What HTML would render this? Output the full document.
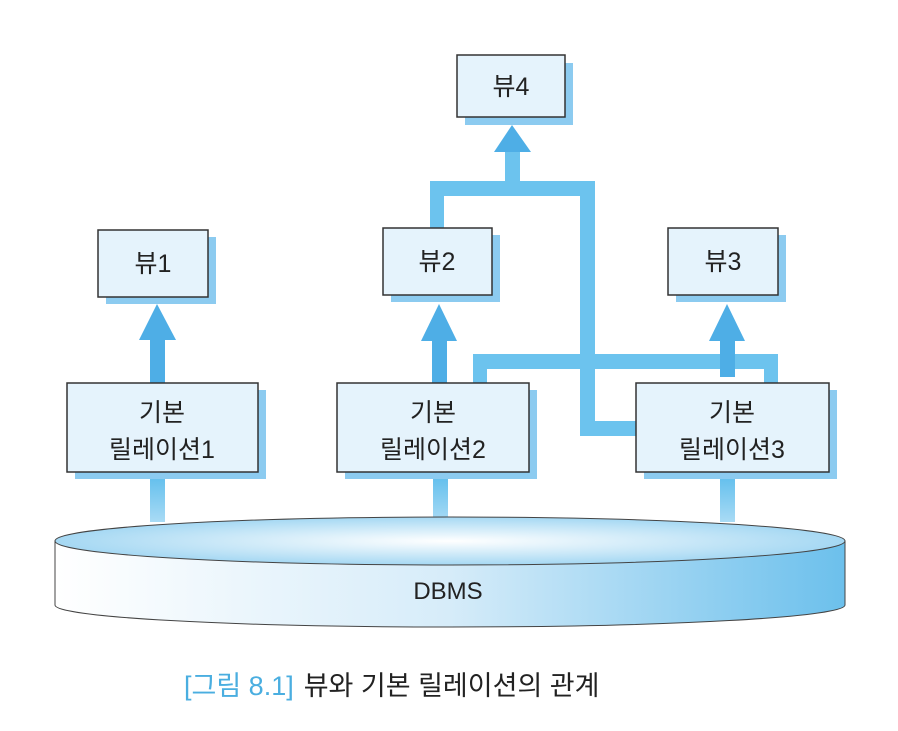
<!DOCTYPE html>
<html><head><meta charset="utf-8"><style>
html,body{margin:0;padding:0;background:#fff;}
svg text{font-family:"Liberation Sans","Noto Sans CJK KR",sans-serif;fill:#222;}
</style></head><body>
<svg width="898" height="726" viewBox="0 0 898 726" xmlns="http://www.w3.org/2000/svg">
<defs>
<linearGradient id="cyl" x1="0" x2="1" y1="0" y2="0">
<stop offset="0" stop-color="#ffffff"/><stop offset="0.5" stop-color="#d6ecf9"/><stop offset="1" stop-color="#6cc0ec"/>
</linearGradient>
<radialGradient id="top" cx="0.5" cy="0.5" r="0.5">
<stop offset="0" stop-color="#ffffff"/><stop offset="1" stop-color="#a5d8f3"/>
</radialGradient>
<linearGradient id="vg" x1="0" x2="0" y1="0" y2="1">
<stop offset="0" stop-color="#5bbcec"/><stop offset="1" stop-color="#a9dbf5"/>
</linearGradient>
</defs>
<g fill="#6cc3ee">
<rect x="430" y="181" width="14" height="48"/>
<rect x="430" y="181" width="165" height="15"/>
<rect x="580" y="181" width="15" height="255"/>
<rect x="580" y="421" width="56" height="15"/>
<rect x="505" y="150" width="15" height="32"/>
<rect x="473" y="354" width="305" height="15"/>
<rect x="473" y="354" width="14" height="30"/>
<rect x="764" y="354" width="14" height="30"/>
</g>
<g fill="#4eaee6">
<polygon points="512,125 494,152 531,152"/>
<rect x="150" y="338" width="15" height="46"/>
<polygon points="157,304 139,340 176,340"/>
<rect x="432" y="338" width="15" height="46"/>
<polygon points="439,304 421,341 457,341"/>
<rect x="720" y="338" width="15" height="46"/>
<polygon points="727,304 709,341 745,341"/>
</g>
<rect x="714" y="377" width="28" height="6" fill="#fff"/>
<g fill="url(#vg)">
<rect x="150" y="472" width="15" height="50"/>
<rect x="433" y="472" width="15" height="50"/>
<rect x="720" y="472" width="15" height="50"/>
</g>
<g stroke="#333" stroke-width="1.5" fill="#e5f3fc">
<rect x="465" y="63" width="108" height="62" fill="#8ccbf0" stroke="none"/>
<rect x="457" y="55" width="108" height="62"/>
<rect x="106" y="237" width="110" height="67" fill="#8ccbf0" stroke="none"/>
<rect x="98" y="230" width="110" height="67"/>
<rect x="391" y="235" width="109" height="67" fill="#8ccbf0" stroke="none"/>
<rect x="383" y="228" width="109" height="67"/>
<rect x="676" y="235" width="110" height="67" fill="#8ccbf0" stroke="none"/>
<rect x="668" y="228" width="110" height="67"/>
<rect x="75" y="390" width="191" height="89" fill="#8ccbf0" stroke="none"/>
<rect x="67" y="383" width="191" height="89"/>
<rect x="345" y="390" width="192" height="89" fill="#8ccbf0" stroke="none"/>
<rect x="337" y="383" width="192" height="89"/>
<rect x="644" y="390" width="193" height="89" fill="#8ccbf0" stroke="none"/>
<rect x="636" y="383" width="193" height="89"/>
</g>
<g font-size="25" text-anchor="middle">
<text x="511" y="95">뷰4</text>
<text x="153" y="272">뷰1</text>
<text x="437" y="270">뷰2</text>
<text x="723" y="270">뷰3</text>
<text x="162" y="421">기본</text><text x="162" y="458">릴레이션1</text>
<text x="433" y="421">기본</text><text x="433" y="458">릴레이션2</text>
<text x="732" y="421">기본</text><text x="732" y="458">릴레이션3</text>
</g>
<path d="M55,541 L55,605 A395,22 0 0 0 845,605 L845,541 Z" fill="url(#cyl)" stroke="#444" stroke-width="1"/>
<ellipse cx="450" cy="541" rx="395" ry="24" fill="url(#top)" stroke="#444" stroke-width="1"/>
<text x="448" y="599" font-size="24" text-anchor="middle">DBMS</text>
<text x="184" y="695" font-size="27"><tspan style="fill:#4aaee0">[그림 8.1]</tspan><tspan dx="10">뷰와 기본 릴레이션의 관계</tspan></text>
</svg>
</body></html>
